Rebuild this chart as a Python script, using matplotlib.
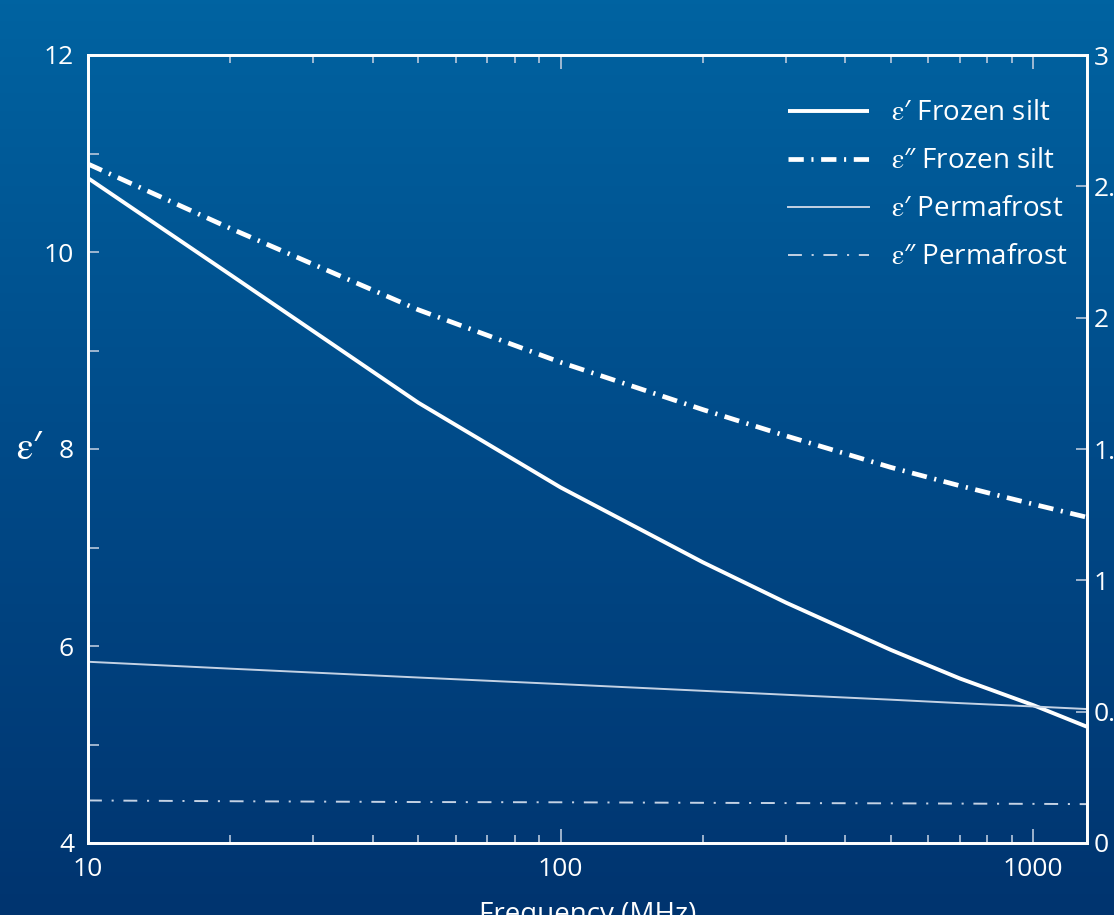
import numpy as np
import matplotlib
matplotlib.use("Agg")
import matplotlib.pyplot as plt
from matplotlib.colors import LinearSegmentedColormap
from matplotlib.ticker import FixedLocator, NullFormatter, FixedFormatter, MultipleLocator

plt.rcParams['font.family'] = ['Open Sans', 'DejaVu Sans']
plt.rcParams['mathtext.fontset'] = 'stix'
plt.rcParams['lines.scale_dashes'] = False

# ---- data ----
freq_mhz = [10, 20, 50, 100, 200, 300, 500, 700, 1000, 1300]
eps_real_silt = [10.75, 9.77, 8.47, 7.61, 6.85, 6.44, 5.96, 5.67, 5.40, 5.18]
eps_imag_silt = [2.585, 2.34, 2.03, 1.83, 1.65, 1.55, 1.43, 1.36, 1.29, 1.24]
eps_real_perma = [5.84, 5.77, 5.68, 5.613, 5.545, 5.505, 5.455, 5.42, 5.386, 5.36]
eps_imag_perma = [0.162, 0.159, 0.156, 0.155, 0.153, 0.152, 0.151, 0.150, 0.149, 0.148]

x_ticks = [10, 100, 1000]
x_tick_labels = ["10", "100", "1000"]
left_ticks = [4, 6, 8, 10, 12]
right_ticks = [0, 0.5, 1, 1.5, 2, 2.5, 3]
right_tick_labels = ["0", "0.5", "1", "1.5", "2", "2.5", "3"]

EPS = r"$\mathrm{\varepsilon}$"
legend_labels = [EPS + "′ Frozen silt", EPS + "″ Frozen silt",
                 EPS + "′ Permafrost", EPS + "″ Permafrost"]

W, H = 1114, 915
fig = plt.figure(figsize=(W / 100, H / 100), dpi=100)

# background gradient
bg = fig.add_axes([0, 0, 1, 1], zorder=-10)
cmap = LinearSegmentedColormap.from_list("bg", ["#0063A1", "#014A88", "#00346F"])
grad = np.linspace(0, 1, 256).reshape(-1, 1)
bg.imshow(grad, aspect="auto", cmap=cmap, extent=[0, 1, 0, 1], origin="upper")
bg.set_axis_off()

white = "white"
light = "#c4d2e4"
tickc = "#b8c8dc"

left, right, top, bottom = 88 / W, 1087 / W, 1 - 55 / H, 1 - 843 / H
ax = fig.add_axes([left, bottom, right - left, top - bottom])
ax.set_facecolor("none")
ax2 = ax.twinx()

ax.set_xscale("log")
ax.set_xlim(10, 1300)
ax.set_ylim(4, 12)
ax2.set_ylim(0, 3)

dashdot_thick = (0, (11, 5.5, 1.5, 5.5))
dashdot_thin = (0, (10, 7, 1.5, 7))

l1, = ax.plot(freq_mhz, eps_real_silt, color=white, lw=2.8, solid_capstyle="butt",
              solid_joinstyle="round")
l2, = ax2.plot(freq_mhz, eps_imag_silt, color=white, lw=3.4, linestyle=dashdot_thick,
               dash_capstyle="butt")
l3, = ax.plot(freq_mhz, eps_real_perma, color=light, lw=1.4)
l4, = ax2.plot(freq_mhz, eps_imag_perma, color=light, lw=1.4, linestyle=dashdot_thin,
               dash_capstyle="butt")

for s in list(ax.spines.values()) + list(ax2.spines.values()):
    s.set_color(white)
    s.set_linewidth(2)

ax.xaxis.set_major_locator(FixedLocator(x_ticks))
ax.xaxis.set_major_formatter(FixedFormatter(x_tick_labels))
ax.xaxis.set_minor_formatter(NullFormatter())
ax.yaxis.set_major_locator(FixedLocator(left_ticks))
ax.yaxis.set_minor_locator(MultipleLocator(1))
ax2.yaxis.set_major_locator(FixedLocator(right_ticks))
ax2.yaxis.set_major_formatter(FixedFormatter(right_tick_labels))

ax.tick_params(axis="x", which="both", direction="in", top=True, bottom=True,
               colors=tickc, labelcolor=white, labelsize=19, pad=10)
ax.tick_params(axis="x", which="major", length=10, width=1.2)
ax.tick_params(axis="x", which="minor", length=6, width=1.2)
ax.tick_params(axis="y", which="both", direction="in", left=True, right=False,
               length=8, width=1.2, colors=tickc, labelcolor=white, labelsize=19, pad=10)
ax2.tick_params(axis="y", which="both", direction="in", right=True, left=False,
                length=8, width=1.2, colors=tickc, labelcolor=white, labelsize=19, pad=5)

ax.set_xlabel("Frequency (MHz)", color=white, fontsize=20, labelpad=14)
ax.set_ylabel(EPS + "′", color=white, fontsize=27, rotation=0, va="center", ha="center")
ax.yaxis.set_label_coords(-0.058, 0.5)

leg = ax2.legend([l1, l2, l3, l4], legend_labels, loc="upper right", frameon=False,
                 fontsize=20, handlelength=2.9, handletextpad=0.8, labelspacing=0.72,
                 bbox_to_anchor=(0.998, 0.965), borderaxespad=0.2)
for t in leg.get_texts():
    t.set_color(white)

fig.savefig("out.png", dpi=100)
